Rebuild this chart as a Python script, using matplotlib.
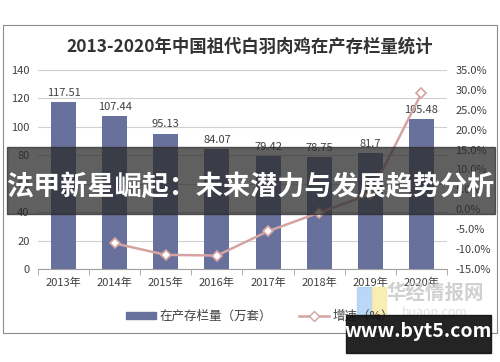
import numpy as np
import matplotlib.pyplot as plt
from matplotlib.patches import Rectangle
from matplotlib.lines import Line2D

plt.rcParams['font.family'] = ['Noto Sans CJK SC', 'DejaVu Sans']

# data
years = ['2013年', '2014年', '2015年', '2016年', '2017年', '2018年', '2019年', '2020年']
stock = [117.51, 107.44, 95.13, 84.07, 79.42, 78.75, 81.7, 105.48]
growth = [None, -8.57, -11.46, -11.63, -5.53, -0.84, 3.75, 29.1]

bar_color = '#67719b'
line_color = '#d6a3a3'
text_color = '#404040'

fig = plt.figure(figsize=(5, 3.62), dpi=100)

# outer frame
fig.patches.append(Rectangle((0.006, 0.08), 0.988, 0.85, transform=fig.transFigure,
                             fill=False, edgecolor='#8c8c8c', linewidth=0.8))

fig.text(0.5, 0.87, '2013-2020年中国祖代白羽肉鸡在产存栏量统计', ha='center', va='center',
         fontsize=12.5, fontweight='bold', color='#333333')

ax = fig.add_axes([0.076, 0.257, 0.818, 0.55])
x = np.arange(len(years))
ax.bar(x, stock, width=0.49, color=bar_color, zorder=2)
for xi, v in zip(x, stock):
    ax.text(xi, v + 3, f'{v:g}', ha='center', va='bottom', fontsize=8, color=text_color)

ax.set_xlim(-0.5, len(years) - 0.5)
ax.set_ylim(0, 140)
ax.set_yticks(np.arange(0, 141, 20))
ax.grid(axis='y', color='#d0d0d0', linewidth=0.8, zorder=0)
ax.set_xticks(x)
ax.set_xticklabels(years)
ax.set_xticks(np.arange(-0.5, len(years), 1), minor=True)
ax.tick_params(axis='x', which='major', length=0, pad=6, labelsize=8, labelcolor=text_color)
ax.tick_params(axis='x', which='minor', length=4, color='#a0a0a0')
ax.tick_params(axis='y', length=0, labelsize=8, labelcolor=text_color, pad=6)
for s in ['top', 'left', 'right']:
    ax.spines[s].set_visible(False)
ax.spines['bottom'].set_color('#a0a0a0')

ax2 = ax.twinx()
gx = [i for i, g in enumerate(growth) if g is not None]
gy = [g for g in growth if g is not None]
ax2.plot(gx, gy, color=line_color, linewidth=1.8, marker='D', markersize=5,
         markerfacecolor='white', markeredgecolor=line_color, markeredgewidth=1.2, zorder=3)
ax2.set_ylim(-15, 35)
ax2.set_yticks(np.arange(-15, 36, 5))
ax2.set_yticklabels([f'{t:.1f}%' for t in np.arange(-15, 36, 5)])
ax2.tick_params(axis='y', length=0, labelsize=8, labelcolor=text_color, pad=6)
for s in ax2.spines.values():
    s.set_visible(False)

handles = [Rectangle((0, 0), 1, 1, color=bar_color),
           Line2D([0], [0], color=line_color, linewidth=1.8, marker='D', markersize=5,
                  markerfacecolor='white', markeredgecolor=line_color)]
fig.legend(handles, ['在产存栏量（万套）', '增速（%）'], loc='center', bbox_to_anchor=(0.52, 0.125),
           ncol=2, frameon=False, fontsize=9, handlelength=2.4, handleheight=0.5,
           handletextpad=0.3, columnspacing=2.2, labelcolor=text_color)

# watermark logo
fig.patches.append(Rectangle((0.714, 0.125), 0.029, 0.083, transform=fig.transFigure,
                             color='#a9cdf5', alpha=0.8, zorder=5))
fig.patches.append(Rectangle((0.743, 0.125), 0.029, 0.083, transform=fig.transFigure,
                             color='#f7eaa0', alpha=0.8, zorder=5))
fig.text(0.87, 0.19, '华经情报网', ha='center', va='center', fontsize=14, fontweight='bold',
         color='#c8c8c8', alpha=0.85, zorder=6)
fig.text(0.87, 0.138, 'huaon.com', ha='center', va='center', fontsize=9,
         color='#d8d8d8', alpha=0.8, zorder=6)

# overlay banner
fig.patches.append(Rectangle((0.014, 0.41), 0.976, 0.185, transform=fig.transFigure,
                             color='#2b2b2b', alpha=0.75, zorder=10))
fig.text(0.5, 0.484, '法甲新星崛起：未来潜力与发展趋势分析', ha='center', va='center',
         fontsize=19.5, fontweight='bold', color='white', zorder=11)

# site badge
fig.patches.append(Rectangle((0.692, 0.025), 0.29, 0.105, transform=fig.transFigure,
                             color='#111111', alpha=0.92, zorder=10))
fig.text(0.837, 0.085, 'www.byt5.com', ha='center', va='center', fontsize=14,
         fontweight='bold', color='white', zorder=11)

fig.savefig('out.png', dpi=100)
